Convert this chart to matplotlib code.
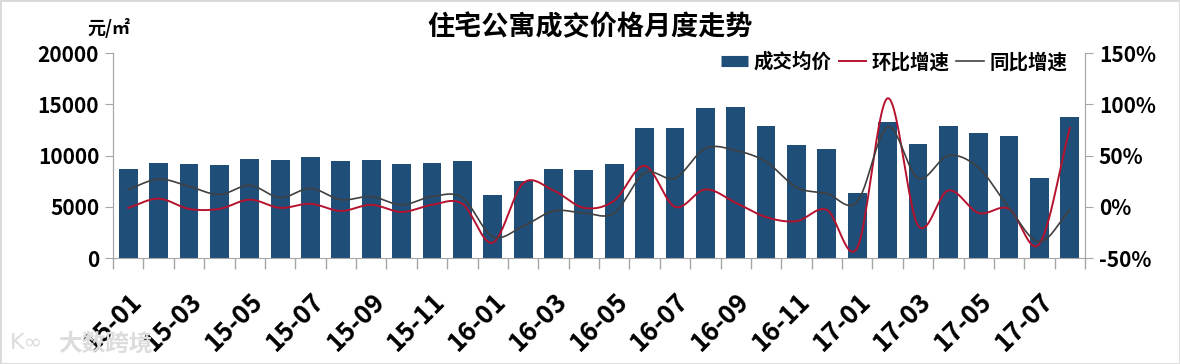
import numpy as np
import matplotlib
matplotlib.use("Agg")
import matplotlib.pyplot as plt
from matplotlib.ticker import FuncFormatter, FixedLocator
from matplotlib.lines import Line2D

plt.rcParams['font.family'] = ['Noto Sans CJK SC', 'DejaVu Sans']

# data
months = ["15-01", "15-02", "15-03", "15-04", "15-05", "15-06", "15-07", "15-08",
          "15-09", "15-10", "15-11", "15-12", "16-01", "16-02", "16-03", "16-04",
          "16-05", "16-06", "16-07", "16-08", "16-09", "16-10", "16-11", "16-12",
          "17-01", "17-02", "17-03", "17-04", "17-05", "17-06", "17-07", "17-08"]
price = [8680, 9270, 9170, 9080, 9670, 9570, 9870, 9470, 9570, 9170, 9270, 9470,
         6200, 7490, 8680, 8550, 9150, 12700, 12700, 14660, 14780, 12920, 11020, 10600,
         6370, 13320, 11100, 12880, 12180, 11900, 7860, 13800]
mom = [-1, 8, -2, -2, 7, -1, 3, -4, 2, -5, 2, 3,
       -35, 23, 16, -1, 6, 40, 0, 17, 4, -10, -14, -3,
       -40, 106, -18, 16, -6, -2, -36, 77]
yoy = [17, 27, 20, 12, 21, 9, 18, 7, 10, 2, 10, 9,
       -29, -19, -4, -6, -6, 33, 28, 57, 55, 44, 19, 13,
       5, 78, 28, 50, 38, -1, -34, -3]

BAR = '#1f4e79'
RED = '#b5122e'
GRAY = '#404040'
AX = '#a6a6a6'


def smooth(x, y, n=24):
    # catmull-rom curve through the points, like excel's smoothed line
    x = np.asarray(x, float)
    y = np.asarray(y, float)
    px = np.concatenate([[2 * x[0] - x[1]], x, [2 * x[-1] - x[-2]]])
    py = np.concatenate([[2 * y[0] - y[1]], y, [2 * y[-1] - y[-2]]])
    xs, ys = [], []
    t = np.linspace(0, 1, n, endpoint=False)
    for i in range(1, len(px) - 2):
        for p, out in ((px, xs), (py, ys)):
            p0, p1, p2, p3 = p[i - 1], p[i], p[i + 1], p[i + 2]
            out.append(0.5 * ((2 * p1) + (-p0 + p2) * t
                              + (2 * p0 - 5 * p1 + 4 * p2 - p3) * t ** 2
                              + (-p0 + 3 * p1 - 3 * p2 + p3) * t ** 3))
    xs.append([x[-1]])
    ys.append([y[-1]])
    return np.concatenate(xs), np.concatenate(ys)


fig = plt.figure(figsize=(11.8, 3.64), dpi=100)
ax = fig.add_axes([0.0958, 0.291, 0.8237, 0.563])
ax2 = ax.twinx()

idx = np.arange(len(months))
ax.bar(idx, price, width=0.62, color=BAR, zorder=2)
ax.set_ylim(0, 20000)
ax.set_xlim(-0.5, len(months) - 0.5)
ax.set_yticks([0, 5000, 10000, 15000, 20000])

sx, sy = smooth(idx, np.array(mom) / 100)
ax2.plot(sx, sy, color=RED, lw=1.4)
sx, sy = smooth(idx, np.array(yoy) / 100)
ax2.plot(sx, sy, color=GRAY, lw=1.2)
ax2.set_ylim(-0.5, 1.5)
ax2.set_yticks([-0.5, 0, 0.5, 1.0, 1.5])
ax2.yaxis.set_major_formatter(FuncFormatter(lambda v, p: f"{v * 100:.0f}%"))

# x ticks: labels every second month, tick marks between categories
ax.xaxis.set_major_locator(FixedLocator(idx[::2]))
ax.set_xticklabels(months[::2])
ax.xaxis.set_minor_locator(FixedLocator(np.arange(-0.5, len(months), 1)))
ax.tick_params(axis='x', which='major', length=0, pad=21)
ax.tick_params(axis='x', which='minor', length=8, color=AX, width=1)
for lab in ax.get_xticklabels():
    lab.set_rotation(45)
    lab.set_ha('right')
    lab.set_va('top')
    lab.set_rotation_mode('anchor')
    lab.set_fontsize(18.5)
    lab.set_fontweight('bold')

ax.tick_params(axis='y', length=6, color=AX, labelsize=15, pad=4)
ax2.tick_params(axis='y', length=6, color=AX, labelsize=15, pad=4)
for lab in ax.get_yticklabels() + ax2.get_yticklabels():
    lab.set_fontweight('bold')

for a in (ax, ax2):
    a.spines['top'].set_visible(False)
    for s in ('left', 'right', 'bottom'):
        a.spines[s].set_color(AX)
ax2.spines['bottom'].set_visible(False)

handles = [Line2D([], [], color=BAR, lw=8, solid_capstyle='butt'),
           Line2D([], [], color=RED, lw=1.4),
           Line2D([], [], color=GRAY, lw=1.2)]
ax2.legend(handles, ["成交均价", "环比增速", "同比增速"], loc='upper right',
           bbox_to_anchor=(1.0, 1.09), ncol=3, frameon=False,
           handlelength=1.4, handletextpad=0.3, columnspacing=0.35,
           prop={'size': 14, 'weight': 'bold'})

fig.text(0.5, 0.925, "住宅公寓成交价格月度走势", ha='center', va='center',
         fontsize=19.5, fontweight='bold')
fig.text(0.092, 0.922, "元/㎡", ha='center', va='center',
         fontsize=13, fontweight='bold')
fig.text(0.008, 0.057, "K∞", ha='left', va='center', fontsize=16,
         color='#dcdcdc', family='DejaVu Sans')
fig.text(0.049, 0.057, "大数跨境", ha='left', va='center', fontsize=17,
         color='#dcdcdc', fontweight='bold')

fig.add_artist(plt.Rectangle((0, 0), 1, 1, transform=fig.transFigure,
                             fill=False, ec='#d9d9d9', lw=2))

fig.savefig("out.png", dpi=100)
